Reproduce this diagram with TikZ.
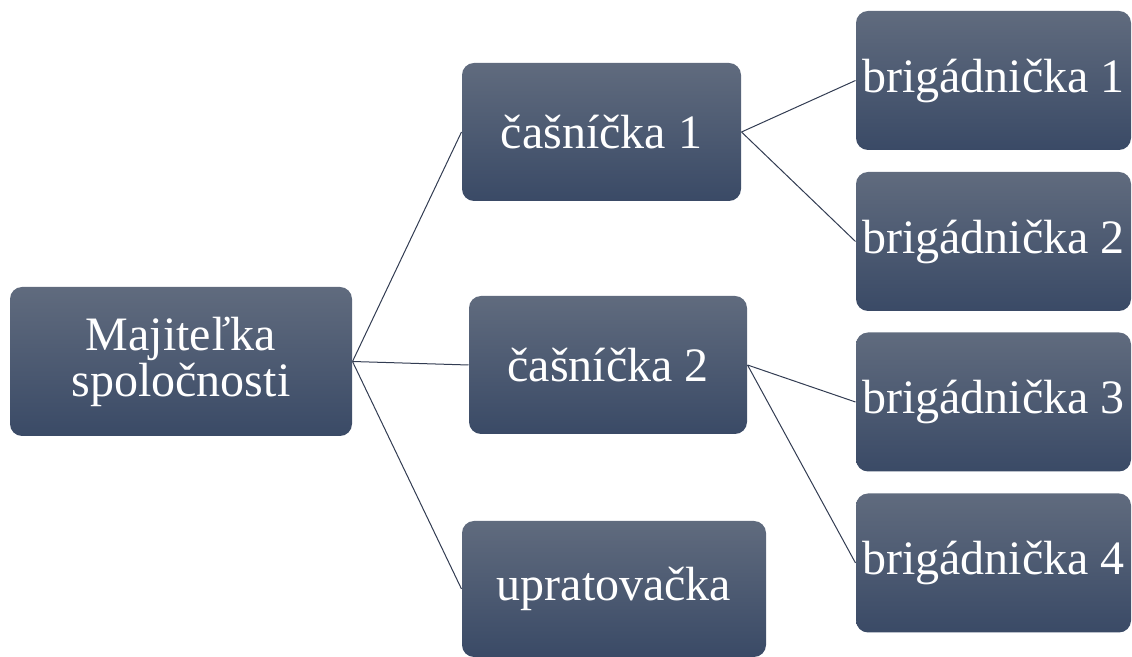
\documentclass[tikz,border=0pt]{standalone}
\usepackage{fontspec}
\setmainfont{Liberation Serif}
\usetikzlibrary{shapes}

\definecolor{boxtop}{RGB}{96,107,126}
\definecolor{boxbot}{RGB}{58,74,102}
\definecolor{linkcol}{RGB}{50,60,82}

\begin{document}
\begin{tikzpicture}[x=0.5pt,y=-0.5pt,line width=0.5pt,
    box/.style={shape=rectangle,rounded corners=6pt,top color=boxtop,bottom color=boxbot,
        draw=none,text=white,align=center,inner sep=0pt,
        font=\fontsize{24}{23}\selectfont},
    link/.style={draw=linkcol}]
                \useasboundingbox (0,0) rectangle (1132,657);
                \node[box,minimum width=171pt,minimum height=74.5pt](own)at(181, 361.5){Majiteľka\\spoločnosti};
                \node[box,minimum width=139.5pt,minimum height=69pt](w1)at(601.5, 132){čašníčka 1};
                \node[box,minimum width=139pt,minimum height=69pt](w2)at(608, 365){čašníčka 2};
                \node[box,minimum width=152pt,minimum height=68pt](cl)at(614, 589){upratovačka};
                \node[box,minimum width=137.5pt,minimum height=69.5pt](b1)at(993.5, 80.5){brigádnička 1};
                \node[box,minimum width=137.5pt,minimum height=69.5pt](b2)at(993.5, 241.5){brigádnička 2};
                \node[box,minimum width=137.5pt,minimum height=69.5pt](b3)at(993.5, 402){brigádnička 3};
                \node[box,minimum width=137.5pt,minimum height=69.5pt](b4)at(993.5, 563){brigádnička 4};
                \path[link](own.east) edge (w1.west)
                (own.east) edge (w2.west)
                (own.east) edge (cl.west)
                (w1.east) edge (b1.west)
                (w1.east) edge (b2.west)
                (w2.east) edge (b3.west)
                (w2.east) edge (b4.west);
            \end{tikzpicture}
\end{document}
